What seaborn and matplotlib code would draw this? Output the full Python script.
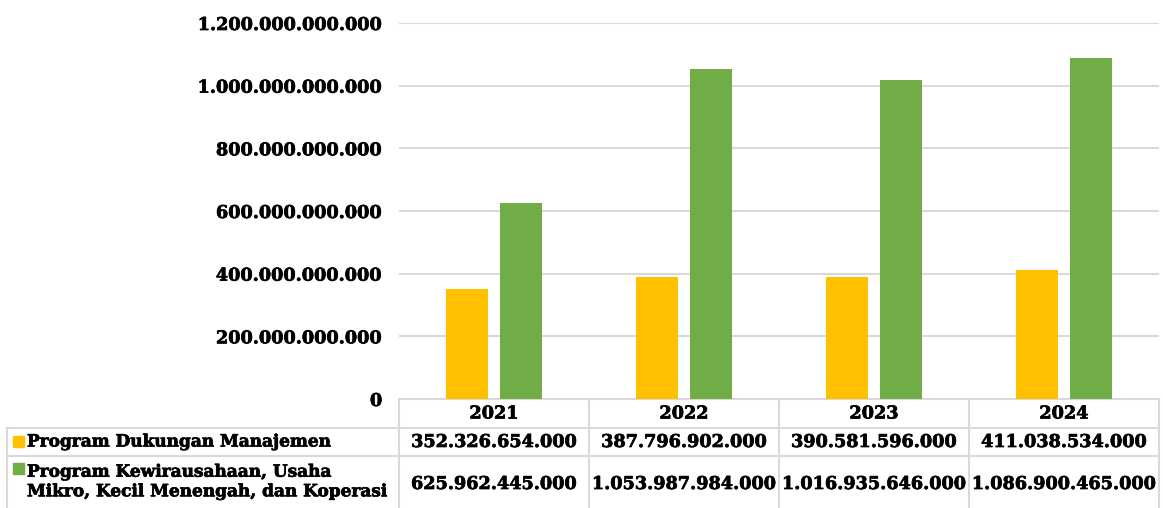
import matplotlib
matplotlib.use("Agg")
import matplotlib.pyplot as plt
import matplotlib.patheffects as pe
import seaborn as sns
import pandas as pd
from matplotlib.ticker import FuncFormatter
from matplotlib.lines import Line2D
from matplotlib.patches import Rectangle

years = ["2021", "2022", "2023", "2024"]
series_names = [
    "Program Dukungan Manajemen",
    "Program Kewirausahaan, Usaha\nMikro, Kecil Menengah, dan Koperasi",
]
dukungan = [352326654000, 387796902000, 390581596000, 411038534000]
kewirausahaan = [625962445000, 1053987984000, 1016935646000, 1086900465000]
colors = ["#FFC000", "#70AD47"]

sns.set_theme(style="white")
plt.rcParams["font.family"] = ["DejaVu Serif"]
plt.rcParams["font.weight"] = "bold"
plt.rcParams["text.color"] = "black"
plt.rcParams["ytick.color"] = "black"

df = pd.DataFrame({
    "Tahun": years * 2,
    "Program": [series_names[0]] * 4 + [series_names[1]] * 4,
    "Nilai": dukungan + kewirausahaan,
})

W, H = 1163, 508
fig = plt.figure(figsize=(W / 100, H / 100), dpi=100)
ax_l, ax_r, ax_t, ax_b = 399, 1159, 23, 399
ax = fig.add_axes([ax_l / W, (H - ax_b) / H, (ax_r - ax_l) / W, (ax_b - ax_t) / H])

sns.barplot(data=df, x="Tahun", y="Nilai", hue="Program", palette=colors,
            width=0.57, gap=0.22, ax=ax, legend=False, saturation=1,
            linewidth=0, edgecolor="none")

ax.set_xlim(-0.5, 3.5)
ax.set_ylim(0, 1.2e12)
ax.set_yticks([i * 2e11 for i in range(7)])
fmt = lambda v, p: "{:,.0f}".format(v).replace(",", ".")
ax.yaxis.set_major_formatter(FuncFormatter(fmt))
nfs = 12.7
ax.tick_params(axis="y", length=0, pad=12, labelsize=nfs, labelcolor="black")
ax.set_xticks([])
ax.set_xlabel("")
ax.set_ylabel("")
bold_fx = [pe.withStroke(linewidth=0.5, foreground="black")]
for lbl in ax.get_yticklabels():
    lbl.set_fontweight("bold")
    lbl.set_path_effects(bold_fx)
ax.grid(axis="y", color="#D9D9D9", linewidth=1.5)
ax.set_axisbelow(True)
for s in ["top", "right", "left", "bottom"]:
    ax.spines[s].set_visible(False)

# data table below the chart
ov = fig.add_axes([0, 0, 1, 1], zorder=-1)
ov.set_xlim(0, W)
ov.set_ylim(H, 0)
ov.axis("off")
gc = "#D9D9D9"
lw = 1.5
col_x = [ax_l + i * (ax_r - ax_l) / 4 for i in range(5)]
ov.add_line(Line2D([ax_l, ax_r], [399, 399], color=gc, lw=lw))
for y in [428, 456]:
    ov.add_line(Line2D([7, ax_r], [y, y], color=gc, lw=lw))
for x in col_x:
    ov.add_line(Line2D([x, x], [399, H], color=gc, lw=lw))
ov.add_line(Line2D([7, 7], [428, H], color=gc, lw=lw))

xform = ax.get_xaxis_transform()
def yfrac(py):
    return -(py - ax_b) / (ax_b - ax_t)

kw = dict(ha="center", va="center", fontsize=nfs, fontweight="bold",
          color="black", transform=xform, clip_on=False, path_effects=bold_fx)
for i, yr in enumerate(years):
    ax.text(i, yfrac(413.5), yr, **kw)
    ax.text(i, yfrac(442), fmt(dukungan[i], None), **kw)
    ax.text(i, yfrac(484), fmt(kewirausahaan[i], None), **kw)

lfs = 12.2
ov.add_patch(Rectangle((13, 436), 11, 11, color=colors[0]))
ov.text(27, 442, series_names[0], ha="left", va="center", fontsize=lfs,
        fontweight="bold", color="black", path_effects=bold_fx)
ov.add_patch(Rectangle((13, 463), 11, 11, color=colors[1]))
ov.text(27, 482, series_names[1], ha="left", va="center", fontsize=lfs,
        fontweight="bold", color="black", linespacing=1.2, path_effects=bold_fx)

fig.savefig("out.png", dpi=100)
